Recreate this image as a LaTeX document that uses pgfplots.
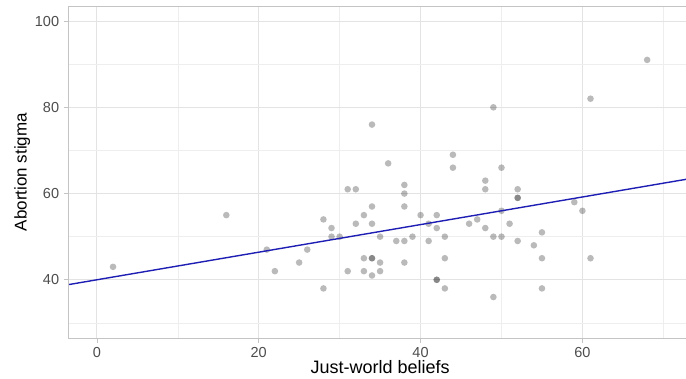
\documentclass[border=0pt]{standalone}
\usepackage{fontspec}
\setmainfont{Liberation Sans}
\usepackage{pgfplots}
\pgfplotsset{compat=1.18}
\definecolor{tickgray}{HTML}{4D4D4D}
\definecolor{gridmaj}{HTML}{E3E3E3}
\definecolor{gridmin}{HTML}{EEEEEE}
\definecolor{bordergray}{HTML}{C4C4C4}
\definecolor{fitblue}{HTML}{1E1EB4}
\begin{document}
\begin{tikzpicture}
\begin{axis}[
  name=ax,
  scale only axis,
  width=617.5pt, height=332pt,
  xmin=-3.5, xmax=72.8,
  ymin=26.5, ymax=103.5,
  xtick={0,20,40,60},
  ytick={40,60,80,100},
  minor xtick={10,30,50,70},
  minor ytick={30,50,70,90},
  grid=both,
  major grid style={draw=gridmaj, line width=0.7pt},
  minor grid style={draw=gridmin, line width=0.5pt},
  axis line style={draw=none},
  xtick pos=bottom, ytick pos=left,
  tick align=outside,
  major tick length=4.5pt,
  minor tick length=0pt,
  tick style={draw=bordergray, line width=0.6pt},
  /pgf/number format/assume math mode=true,
  ticklabel style={font=\fontsize{14.5}{16}\selectfont, text=tickgray},
  yticklabel style={anchor=east, inner sep=0pt, xshift=-4.7pt},
  xticklabel style={anchor=north, inner sep=0pt, yshift=-4.5pt},
  xlabel={Just-world beliefs},
  ylabel={Abortion stigma},
  xlabel style={font=\fontsize{18}{20}\selectfont, at={(axis description cs:0.5045,-0.1075)}, anchor=base, inner sep=0pt},
  ylabel style={font=\fontsize{17}{20}\selectfont, at={(axis description cs:-0.068,0.5)}, anchor=base, rotate=0, inner sep=0pt},
  clip mode=individual,
]
\addplot[only marks, mark=*, mark size=3.3pt,
  mark options={draw opacity=0, fill=black, fill opacity=0.27}]
coordinates {
(2,43)(16,55)(21,47)(22,42)(25,44)(26,47)(28,54)(28,38)(29,52)(29,50)
(30,50)(31,61)(32,61)(32,53)(31,42)(33,55)(33,45)(33,42)(34,76)(34,57)
(34,53)(34,45)(34,45)(34,41)(35,50)(35,44)(35,42)(36,67)(37,49)(38,62)
(38,60)(38,57)(38,49)(38,44)(39,50)(40,55)(41,53)(41,49)(42,55)(42,52)
(42,40)(42,40)(43,50)(43,45)(43,38)(44,69)(44,66)(46,53)(47,54)(48,63)
(48,61)(48,52)(49,80)(49,50)(49,36)(50,66)(50,56)(50,50)(51,53)(52,61)
(52,59)(52,59)(52,49)(54,48)(55,51)(55,45)(55,38)(59,58)(60,56)(61,82)
(61,45)(68,91)
};
\addplot[fitblue, line width=1.4pt] coordinates {(-3.5,38.88) (72.8,63.30)};
\end{axis}
\draw[bordergray, line width=0.8pt] (ax.south east) -- (ax.south west) -- (ax.north west) -- (ax.north east);
\pgfresetboundingbox
\useasboundingbox (-68.5pt,-40pt) rectangle (617.5pt,338pt);
\end{tikzpicture}
\end{document}
